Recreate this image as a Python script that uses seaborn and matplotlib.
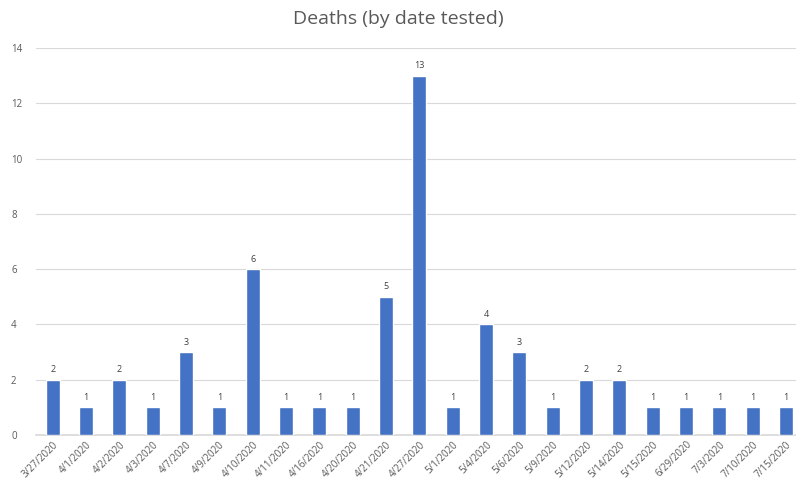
import matplotlib
matplotlib.use("Agg")
import matplotlib.pyplot as plt
import seaborn as sns
import pandas as pd

dates = ["3/27/2020", "4/1/2020", "4/2/2020", "4/3/2020", "4/7/2020", "4/9/2020",
         "4/10/2020", "4/11/2020", "4/16/2020", "4/20/2020", "4/21/2020", "4/27/2020",
         "5/1/2020", "5/4/2020", "5/6/2020", "5/9/2020", "5/12/2020", "5/14/2020",
         "5/15/2020", "6/29/2020", "7/3/2020", "7/10/2020", "7/15/2020"]
deaths = [2, 1, 2, 1, 3, 1, 6, 1, 1, 1, 5, 13, 1, 4, 3, 1, 2, 2, 1, 1, 1, 1, 1]

df = pd.DataFrame({"date": dates, "deaths": deaths})

sns.set_theme(style="white")
plt.rcParams['font.family'] = ['Open Sans', 'DejaVu Sans']

fig = plt.figure(figsize=(7.96, 4.95), dpi=100)
ax = fig.add_axes([36 / 796, (495 - 435) / 495, (796 - 36) / 796, (435 - 48) / 495])

sns.barplot(data=df, x="date", y="deaths", color="#4472C4", width=0.42,
            saturation=1, ax=ax, zorder=3)

ax.set_ylim(0, 14)
ax.set_yticks(range(0, 15, 2))
ax.set_xlim(-0.5, 22.3)
ax.yaxis.grid(True, color="#d9d9d9", linewidth=0.8, zorder=0)
ax.set_axisbelow(True)
for s in ["top", "right", "left"]:
    ax.spines[s].set_visible(False)
ax.spines["bottom"].set_color("#d9d9d9")
ax.set_xlabel("")
ax.set_ylabel("")
ax.tick_params(axis="y", labelsize=7, colors="#595959", length=0, pad=18)
ax.tick_params(axis="x", labelsize=7, colors="#595959", length=0, pad=3)
for lbl in ax.get_yticklabels():
    lbl.set_horizontalalignment("left")
plt.setp(ax.get_xticklabels(), rotation=45, ha="right", rotation_mode="anchor")

for c in ax.containers:
    ax.bar_label(c, fontsize=6.5, color="#404040", padding=4)

fig.text(0.5, 0.962, "Deaths (by date tested)", ha="center", va="center",
         fontsize=14, color="#595959")

fig.savefig("out.png", dpi=100)
